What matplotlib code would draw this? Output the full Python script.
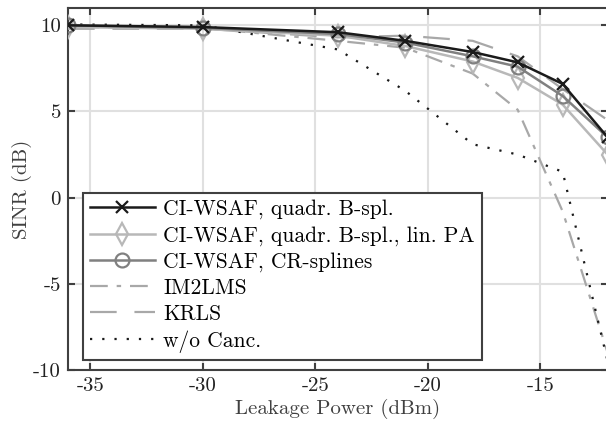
import matplotlib
matplotlib.use('Agg')
import matplotlib.pyplot as plt
import numpy as np

plt.rcParams['font.family'] = 'cmr10'
plt.rcParams['mathtext.fontset'] = 'cm'
plt.rcParams['axes.unicode_minus'] = False

# leakage power (dBm)
power = [-36, -30, -24, -21, -18, -16, -14, -12]

# SINR (dB) per method
sinr_quadr = [10.0, 9.9, 9.6, 9.1, 8.45, 7.85, 6.6, 3.5]
sinr_linpa = [9.9, 9.8, 9.4, 8.8, 7.9, 6.95, 5.4, 2.5]
sinr_cr = [10.0, 9.85, 9.5, 9.0, 8.2, 7.6, 5.9, 3.5]
sinr_im2lms = [9.9, 9.85, 9.1, 8.7, 7.2, 5.1, -0.8, -9.0]
sinr_krls = [9.8, 9.8, 9.3, 9.4, 9.1, 8.2, 6.3, 4.5]
sinr_nocanc = [10.05, 10.0, 8.6, 6.2, 3.1, 2.5, 1.5, -9.5]

labels = ['CI-WSAF, quadr. B-spl.', 'CI-WSAF, quadr. B-spl., lin. PA',
          'CI-WSAF, CR-splines', 'IM2LMS', 'KRLS', 'w/o Canc.']

fig = plt.figure(figsize=(6.06, 4.26), dpi=100)
ax = fig.add_axes([0.1122, 0.1315, 0.8905, 0.8495])

ax.plot(power, sinr_quadr, color='#1a1a1a', lw=1.8, marker='x', ms=8, mew=1.6, label=labels[0], zorder=6)
ax.plot(power, sinr_linpa, color='#b8b8b8', lw=1.8, marker='d', ms=11, mfc='none', mew=1.6, label=labels[1], zorder=4)
ax.plot(power, sinr_cr, color='#808080', lw=1.8, marker='o', ms=10, mfc='none', mew=1.6, label=labels[2], zorder=5)
ax.plot(power, sinr_im2lms, color='#a8a8a8', lw=1.6, dashes=[8, 4, 2, 4], label=labels[3], zorder=3)
ax.plot(power, sinr_krls, color='#a8a8a8', lw=1.6, dashes=[12, 8], label=labels[4], zorder=3)
ax.plot(power, sinr_nocanc, color='#1a1a1a', lw=1.6, dashes=[1, 4.5], label=labels[5], zorder=3)

ax.set_xlim(-36, -12)
ax.set_ylim(-10, 11)
ax.set_xticks([-35, -30, -25, -20, -15])
ax.set_yticks([-10, -5, 0, 5, 10])
ax.grid(True, color='#e0e0e0', lw=1.5)
ax.set_axisbelow(True)
for s in ax.spines.values():
    s.set_color('#404040')
    s.set_linewidth(1.5)
ax.tick_params(direction='in', top=True, right=True, length=5, width=1.5,
               color='#404040', labelsize=15, pad=5, labelcolor='#222222')

ax.set_xlabel('Leakage Power (dBm)', fontsize=15, color='#404040', labelpad=3)
ax.set_ylabel('SINR (dB)', fontsize=15, color='#404040', labelpad=1)

leg = ax.legend(loc='lower left', bbox_to_anchor=(0.028, 0.028), fontsize=15.5,
                handlelength=3.0, handletextpad=0.4, labelspacing=0.3,
                borderaxespad=0, fancybox=False, framealpha=1,
                edgecolor='#404040', borderpad=0.32)
leg.get_frame().set_linewidth(1.5)

fig.savefig('out.png', dpi=100)
